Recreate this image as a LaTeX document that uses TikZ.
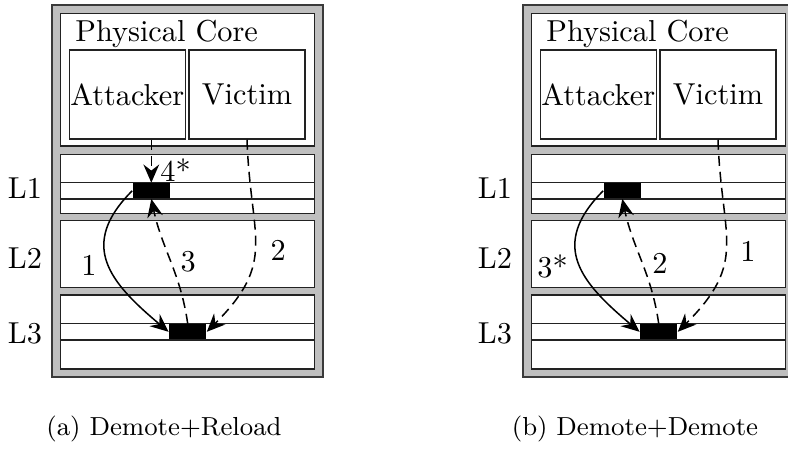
\documentclass[tikz,border=0pt]{standalone}
\usepackage{tikz}
\usetikzlibrary{arrows.meta,calc}
\definecolor{FrameGray}{HTML}{BFBFBF}
\definecolor{FrameEdge}{HTML}{3A3A3A}
\definecolor{BoxEdge}{HTML}{222222}
\newcommand{\pxl}{0.33pt}

\begin{document}
\begin{tikzpicture}[
  x=\pxl,y=\pxl,
  flow/.style={
    -{Stealth[length=6pt,width=5.2pt,inset=2pt]},
    line width=0.5pt,
    draw=black
  },
  flowdash/.style={
    flow,
    dash pattern=on 3.3pt off 2pt
  },
  chipframe/.style={
    draw=FrameEdge,
    fill=FrameGray,
    line width=0.6pt,
    minimum width=271.3*\pxl,
    minimum height=372*\pxl,
    inner sep=0pt
  },
  corebox/.style={
    draw=BoxEdge,
    fill=white,
    line width=0.5pt,
    minimum width=253.6*\pxl,
    minimum height=132.7*\pxl,
    inner sep=0pt
  },
  threadbox/.style={
    draw=BoxEdge,
    fill=white,
    line width=0.5pt,
    minimum width=116*\pxl,
    minimum height=89*\pxl,
    inner sep=0pt
  },
  levelbox/.style={
    draw=BoxEdge,
    fill=white,
    line width=0.5pt,
    minimum width=253.6*\pxl,
    inner sep=0pt
  },
  cacheline/.style={
    draw=BoxEdge,
    line width=0.5pt
  },
  cacheblk/.style={
    fill=black,
    minimum width=37*\pxl,
    minimum height=15*\pxl,
    inner sep=0pt
  },
  levellabel/.style={
    font=\normalsize
  },
  steplabel/.style={
    font=\normalsize,
    inner sep=1pt
  },
  subcaption/.style={
    font=\fontsize{8.6}{10.3}\selectfont
  }
]

\useasboundingbox (0,0) rectangle (788,448);

% -------------------------------------------------
% (a) Demote+Reload
% -------------------------------------------------
\node[chipframe] (frameA) at (187.4,257) {};
\node[corebox] (coreA) at (187.5,368.3) {};
\node[anchor=base] (titleA) at (166.7,406.3) {Physical Core};
\node[threadbox] (attA) at (127.3,353.5) {Attacker};
\node[threadbox] (vicA) at (247,353.5) {Victim};

\node[levelbox, minimum height=59*\pxl] (l1A) at (187.5,264.2) {};
\node[levelbox, minimum height=66.6*\pxl] (l2A) at (187.5,194) {};
\node[levelbox, minimum height=74*\pxl] (l3A) at (187.5,116) {};

\node[cacheblk] (lineA1) at (151.3,257.2) {};
\node[cacheblk] (lineA3) at (187.7,116.2) {};

\draw[cacheline] (l1A.west |- lineA1.north) -- (l1A.east |- lineA1.north);
\draw[cacheline] (l1A.west |- lineA1.south) -- (l1A.east |- lineA1.south);
\draw[cacheline] (l3A.west |- lineA3.north) -- (l3A.east |- lineA3.north);
\draw[cacheline] (l3A.west |- lineA3.south) -- (l3A.east |- lineA3.south);

\node[levellabel] (labA1) at (25,260.3) {L1};
\node[levellabel] (labA2) at (25,189.7) {L2};
\node[levellabel] (labA3) at (25,114.7) {L3};

\draw[flow] (lineA1.west) to[out=225,in=140,looseness=1.35] (lineA3.west);
\draw[flowdash] (vicA.south) to[out=-88,in=45,looseness=1.3] (lineA3.east);
\draw[flowdash] (lineA3.north) to[out=98,in=-78] (lineA1.south);
\draw[flowdash] (lineA1.north |- attA.south) -- (lineA1.north);

\node[steplabel] (stA1) at (89,183) {1};
\node[steplabel] (stA2) at (278.3,198) {2};
\node[steplabel] (stA3) at (188.3,186.3) {3};
\node[steplabel] (stA4) at (175.5,278) {4*};

\node[subcaption] (capA) at (164,19) {(a) Demote+Reload};

% -------------------------------------------------
% (b) Demote+Demote
% -------------------------------------------------
\begin{scope}[shift={(471,0)}]
\node[chipframe] (frameB) at (187.4,257) {};
\node[corebox] (coreB) at (187.5,368.3) {};
\node[anchor=base] (titleB) at (166.7,406.3) {Physical Core};
\node[threadbox] (attB) at (127.3,353.5) {Attacker};
\node[threadbox] (vicB) at (247,353.5) {Victim};

\node[levelbox, minimum height=59*\pxl] (l1B) at (187.5,264.2) {};
\node[levelbox, minimum height=66.6*\pxl] (l2B) at (187.5,194) {};
\node[levelbox, minimum height=74*\pxl] (l3B) at (187.5,116) {};

\node[cacheblk] (lineB1) at (151.3,257.2) {};
\node[cacheblk] (lineB3) at (187.7,116.2) {};

\draw[cacheline] (l1B.west |- lineB1.north) -- (l1B.east |- lineB1.north);
\draw[cacheline] (l1B.west |- lineB1.south) -- (l1B.east |- lineB1.south);
\draw[cacheline] (l3B.west |- lineB3.north) -- (l3B.east |- lineB3.north);
\draw[cacheline] (l3B.west |- lineB3.south) -- (l3B.east |- lineB3.south);

\node[levellabel] (labB1) at (24,260.3) {L1};
\node[levellabel] (labB2) at (24,189.7) {L2};
\node[levellabel] (labB3) at (24,114.7) {L3};

\draw[flowdash] (vicB.south) to[out=-88,in=45,looseness=1.3] (lineB3.east);
\draw[flowdash] (lineB3.north) to[out=98,in=-78] (lineB1.south);
\draw[flow] (lineB1.west) to[out=225,in=140,looseness=1.35] (lineB3.west);

\node[steplabel] (stB1) at (277,197) {1};
\node[steplabel] (stB2) at (189,185) {2};
\node[steplabel] (stB3) at (81.5,182) {3*};

\node[subcaption] (capB) at (164,19) {(b) Demote+Demote};
\end{scope}

\end{tikzpicture}
\end{document}
